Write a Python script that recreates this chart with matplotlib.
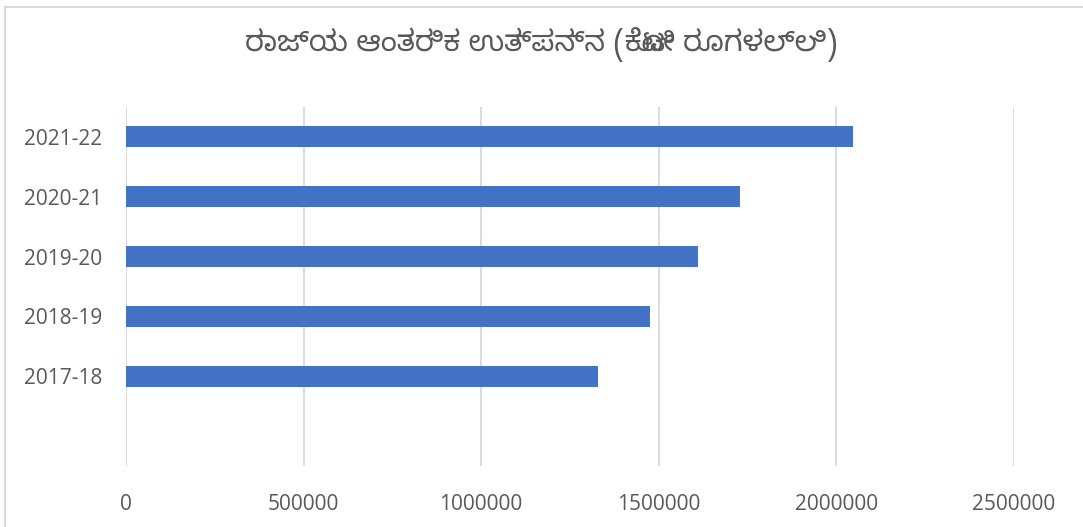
import matplotlib
matplotlib.use('Agg')
import matplotlib.pyplot as plt
import matplotlib.patches as mpatches
import numpy as np

# data
years = ['2017-18', '2018-19', '2019-20', '2020-21', '2021-22']
gsdp = [1330000, 1475000, 1610000, 1728000, 2047000]
xticks = [0, 500000, 1000000, 1500000, 2000000, 2500000]
title = 'ರಾಜ್ಯ ಆಂತರಿಕ ಉತ್ಪನ್ನ (ಕೋಟಿ ರೂಗಳಲ್ಲಿ)'

plt.rcParams['font.family'] = ['Open Sans', 'Noto Sans', 'DejaVu Sans']

fig = plt.figure(figsize=(10.83, 5.27), dpi=100)
ax = fig.add_axes([0.1163, 0.1157, 0.8200, 0.6813])

# light frame around the chart area (open at the right and bottom like the crop)
fig.patches.append(mpatches.Rectangle((5 / 1083, -0.1), 1.2, 1.1 - 7 / 527,
                                      transform=fig.transFigure, fill=False,
                                      edgecolor='#d9d9d9', linewidth=1.5))

pos = np.arange(len(years))
ax.barh(pos, gsdp, height=0.35, color='#4472C4', zorder=3)

ax.set_xlim(0, 2500000)
ax.set_ylim(-1.5, 4.5)
ax.set_xticks(xticks)
ax.set_xticklabels([str(v) for v in xticks])
ax.set_yticks(pos)
ax.set_yticklabels(years)
ax.tick_params(axis='both', length=0, labelsize=15, colors='#595959')
ax.tick_params(axis='x', pad=20)
ax.tick_params(axis='y', pad=17)
ax.grid(axis='x', color='#d9d9d9', linewidth=1.3, zorder=0)
for s in ax.spines.values():
    s.set_visible(False)

fig.text(0.5, 0.915, title, ha='center', va='center', fontsize=21,
         color='#595959',
         family=['Noto Sans Kannada', 'Noto Sans', 'DejaVu Sans'])

fig.savefig('out.png', dpi=100)
